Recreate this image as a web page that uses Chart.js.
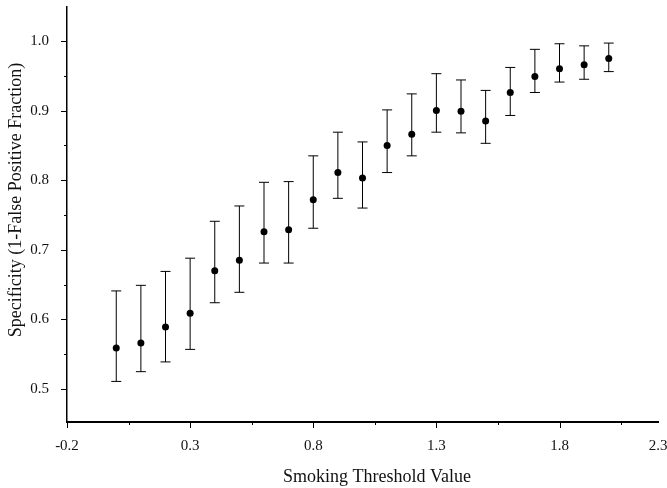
<!DOCTYPE html>
<html>
<head>
<meta charset="utf-8">
<script src="https://cdn.jsdelivr.net/npm/chart.js@4/dist/chart.umd.min.js"></script>
<style>
  html, body { margin: 0; padding: 0; background: #fff; }
  #wrap { width: 667px; height: 488px; }
</style>
</head>
<body>
<div id="wrap"><canvas id="mycanvas" width="667" height="488"></canvas></div>
<script>
// smoking threshold vs specificity, with interval bounds
var thresholds = [0.0, 0.1, 0.2, 0.3, 0.4, 0.5, 0.6, 0.7, 0.8, 0.9, 1.0,
                  1.1, 1.2, 1.3, 1.4, 1.5, 1.6, 1.7, 1.8, 1.9, 2.0];
var specificity = [0.559, 0.566, 0.589, 0.609, 0.670, 0.685, 0.726, 0.729, 0.772, 0.811, 0.803,
                   0.850, 0.866, 0.900, 0.899, 0.885, 0.926, 0.949, 0.960, 0.966, 0.975];
var upper = [0.641, 0.649, 0.669, 0.688, 0.741, 0.763, 0.797, 0.798, 0.835, 0.869, 0.855,
             0.901, 0.924, 0.953, 0.944, 0.929, 0.962, 0.988, 0.996, 0.993, 0.997];
var lower = [0.511, 0.525, 0.539, 0.557, 0.624, 0.639, 0.681, 0.681, 0.731, 0.774, 0.760,
             0.811, 0.835, 0.869, 0.868, 0.853, 0.893, 0.926, 0.941, 0.945, 0.956];

// axis ticks (the last x label sits at the end of the axis)
var xTickValues = [-0.2, 0.3, 0.8, 1.3, 1.8, 2.2];
var xTickLabels = ['-0.2', '0.3', '0.8', '1.3', '1.8', '2.3'];
var xMajorMarks = [-0.2, 0.3, 0.8, 1.3, 1.8];
var xMinorMarks = [0.05, 0.55, 1.05, 1.55, 2.05];
var yTickValues = [0.5, 0.6, 0.7, 0.8, 0.9, 1.0];
var yMinorMarks = [0.55, 0.65, 0.75, 0.85, 0.95];

var FONT = '"Liberation Serif", "Times New Roman", serif';
var INK = '#111';

var errorBars = {
    id: 'errorBars',
    beforeDatasetsDraw: function(chart) {
        var ctx = chart.ctx, xs = chart.scales.x, ys = chart.scales.y;
        ctx.save();
        ctx.strokeStyle = '#000';
        ctx.lineWidth = 1;
        for (var i = 0; i < thresholds.length; i++) {
            var px = xs.getPixelForValue(thresholds[i]);
            var top = ys.getPixelForValue(upper[i]);
            var bot = ys.getPixelForValue(lower[i]);
            ctx.beginPath();
            ctx.moveTo(px, top); ctx.lineTo(px, bot);
            ctx.moveTo(px - 5, top); ctx.lineTo(px + 5, top);
            ctx.moveTo(px - 5, bot); ctx.lineTo(px + 5, bot);
            ctx.stroke();
        }
        ctx.restore();
    }
};

// tick marks, axis titles
var axisDecor = {
    id: 'axisDecor',
    afterDraw: function(chart) {
        var ctx = chart.ctx, xs = chart.scales.x, ys = chart.scales.y;
        var ax = chart.chartArea.left, ay = chart.chartArea.bottom;
        ctx.save();
        ctx.strokeStyle = '#000';
        ctx.lineWidth = 1;
        ctx.beginPath();
        yTickValues.forEach(function(v) {
            var py = Math.round(ys.getPixelForValue(v)) + 0.5;
            ctx.moveTo(ax - 6, py); ctx.lineTo(ax, py);
        });
        yMinorMarks.forEach(function(v) {
            var py = Math.round(ys.getPixelForValue(v)) + 0.5;
            ctx.moveTo(ax - 3, py); ctx.lineTo(ax, py);
        });
        xMajorMarks.forEach(function(v) {
            var px = Math.round(xs.getPixelForValue(v)) + 0.5;
            ctx.moveTo(px, ay); ctx.lineTo(px, ay + 6);
        });
        xMinorMarks.forEach(function(v) {
            var px = Math.round(xs.getPixelForValue(v)) + 0.5;
            ctx.moveTo(px, ay); ctx.lineTo(px, ay + 3);
        });
        ctx.stroke();

        ctx.fillStyle = INK;
        ctx.font = '18px ' + FONT;
        ctx.textAlign = 'center';
        ctx.textBaseline = 'alphabetic';
        ctx.fillText('Smoking Threshold Value', 377, 482);
        ctx.translate(21, 200);
        ctx.rotate(-Math.PI / 2);
        ctx.fillText('Specificity (1-False Positive Fraction)', 0, 0);
        ctx.restore();
    }
};

var chartdata = {
    datasets: [{
        label: 'Specificity',
        data: thresholds.map(function(t, i) { return { x: t, y: specificity[i] }; }),
        backgroundColor: '#000',
        borderWidth: 0,
        pointRadius: 3.5,
        showLine: false
    }]
};

var ctx = document.getElementById('mycanvas');

var plot = new Chart(ctx, {
    type: 'scatter',
    data: chartdata,
    plugins: [errorBars, axisDecor],
    options: {
        responsive: false,
        animation: false,
        devicePixelRatio: 1,
        layout: { padding: { top: 7, right: 9, left: 0, bottom: 0 } },
        plugins: { legend: { display: false }, tooltip: { enabled: false } },
        scales: {
            x: {
                type: 'linear',
                min: -0.2,
                max: 2.2,
                grid: { display: false },
                border: { display: true, color: '#000', width: 2 },
                afterBuildTicks: function(scale) {
                    scale.ticks = xTickValues.map(function(v) { return { value: v }; });
                },
                afterFit: function(scale) {
                    scale.height = 66;
                    scale.paddingLeft = 0;
                    scale.paddingRight = 0;
                },
                ticks: {
                    autoSkip: false,
                    maxRotation: 0,
                    padding: 7,
                    color: INK,
                    font: { family: FONT, size: 15 },
                    callback: function(value, index) { return xTickLabels[index]; }
                }
            },
            y: {
                min: 0.4527,
                max: 1.0488,
                grid: { display: false },
                border: { display: true, color: '#000', width: 1.5 },
                afterBuildTicks: function(scale) {
                    scale.ticks = yTickValues.map(function(v) { return { value: v }; });
                },
                afterFit: function(scale) {
                    scale.width = 67;
                    scale.paddingTop = 0;
                    scale.paddingBottom = 0;
                },
                ticks: {
                    padding: 10,
                    color: INK,
                    font: { family: FONT, size: 15 },
                    callback: function(value) { return value.toFixed(1); }
                }
            }
        }
    }
});
</script>
</body>
</html>
